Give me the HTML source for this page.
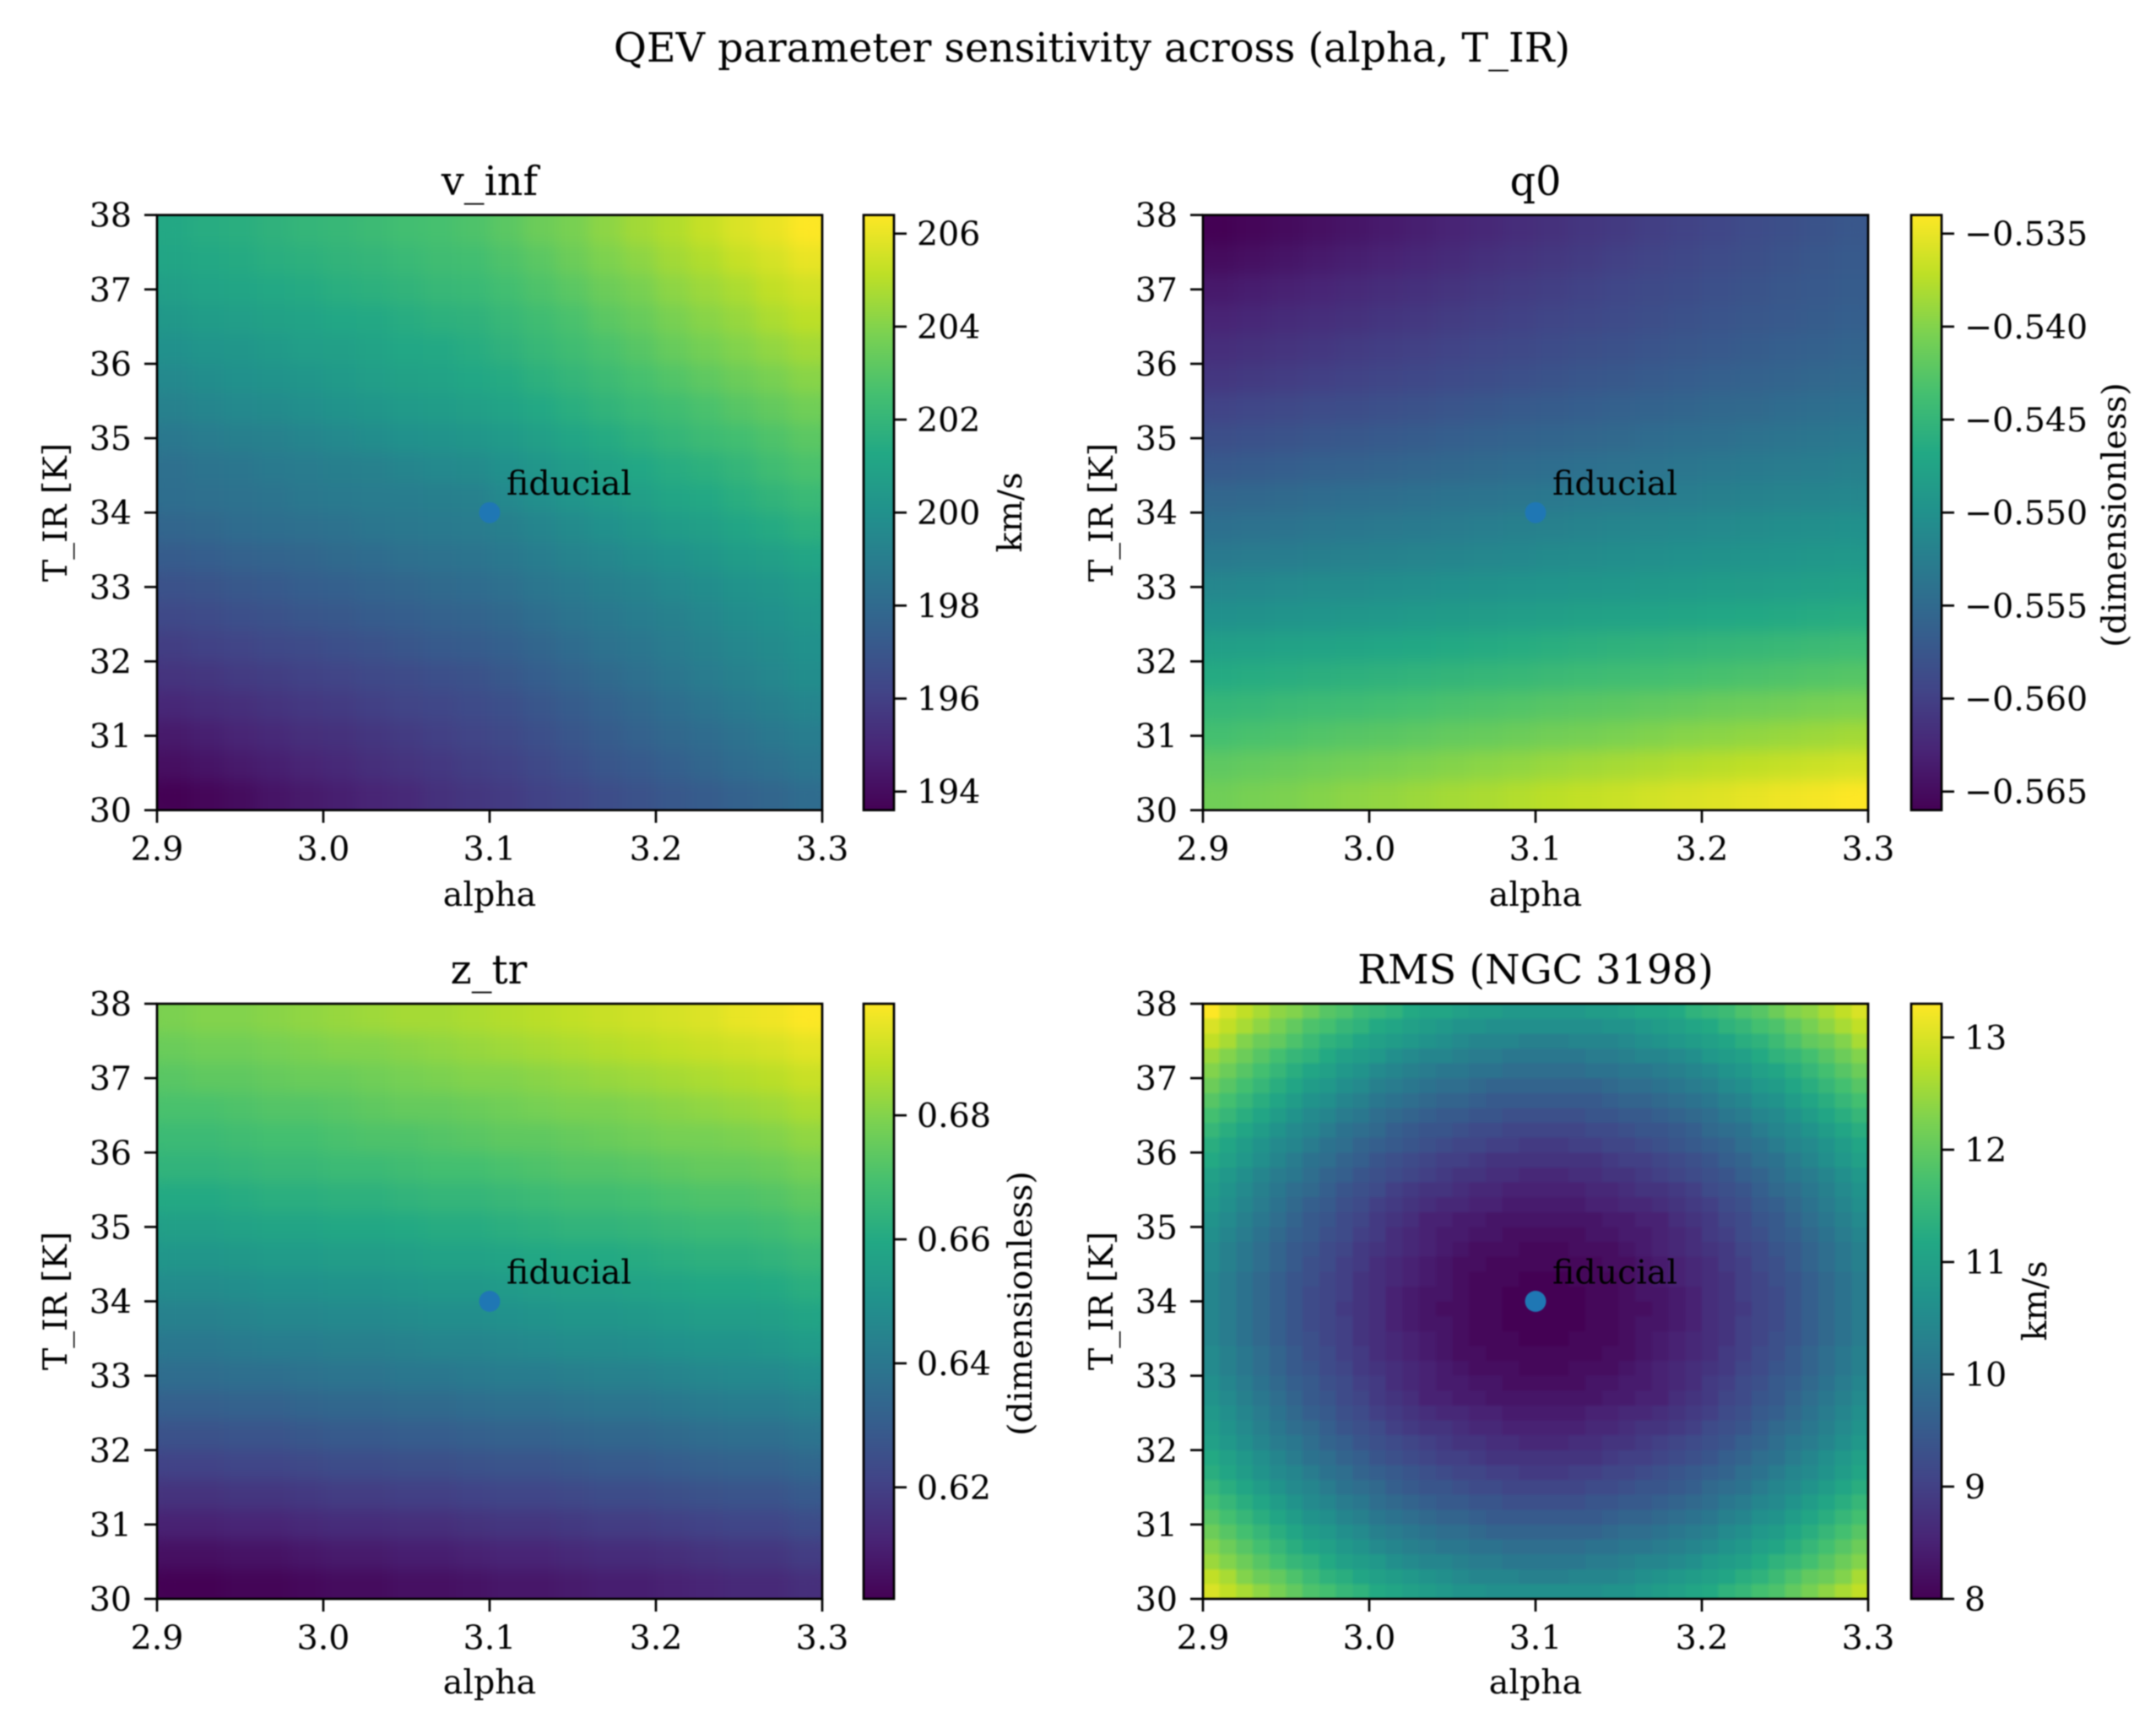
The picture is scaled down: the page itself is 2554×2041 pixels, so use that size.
<!DOCTYPE html>
<html lang="en">
<head>
<meta charset="utf-8">
<title>QEV parameter sensitivity</title>
<style>
html,body{margin:0;padding:0;background:#fff;width:2554px;height:2041px;overflow:hidden}
svg{display:block;filter:blur(0.8px)}
text{fill:#000;font-family:"DejaVu Serif","Liberation Serif",serif}
</style>
</head>
<body>
<svg id="figure" xmlns="http://www.w3.org/2000/svg" width="2554" height="2041" viewBox="0 0 2554 2041">
<defs>
<linearGradient id="viridis-gradient" x1="0" y1="1" x2="0" y2="0">
<stop offset="0" stop-color="#440154"/><stop offset=".1" stop-color="#482475"/><stop offset=".2" stop-color="#414487"/><stop offset=".3" stop-color="#355f8d"/><stop offset=".4" stop-color="#2a788e"/><stop offset=".5" stop-color="#21918c"/><stop offset=".6" stop-color="#22a884"/><stop offset=".7" stop-color="#44bf70"/><stop offset=".8" stop-color="#7ad151"/><stop offset=".9" stop-color="#bddf26"/><stop offset="1" stop-color="#fde725"/>
</linearGradient>
<filter id="soft-cells" x="-5%" y="-5%" width="110%" height="110%" color-interpolation-filters="sRGB"><feGaussianBlur stdDeviation="9"/><feComponentTransfer><feFuncA type="linear" slope="60"/></feComponentTransfer></filter>
<filter id="crisp-cells" x="-5%" y="-5%" width="110%" height="110%" color-interpolation-filters="sRGB"><feGaussianBlur stdDeviation="1.2"/><feComponentTransfer><feFuncA type="linear" slope="60"/></feComponentTransfer></filter>
</defs>
<rect width="2554" height="2041" fill="#fff"/>
<text x="1293.5" y="73" font-size="47.6" text-anchor="middle">QEV parameter sensitivity across (alpha, T_IR)</text>

<g id="vinf">
<text x="580" y="231" font-size="47.6" text-anchor="middle">v_inf</text>
<text x="580" y="1073" font-size="39.5" text-anchor="middle">alpha</text>
<text transform="translate(79,607) rotate(-90)" font-size="39.5" text-anchor="middle">T_IR [K]</text>
<text transform="translate(1210,607) rotate(-90)" font-size="39.5" text-anchor="middle">km/s</text>
</g>
<g id="q0">
<text x="1819" y="231" font-size="47.6" text-anchor="middle">q0</text>
<text x="1819" y="1073" font-size="39.5" text-anchor="middle">alpha</text>
<text transform="translate(1318,607) rotate(-90)" font-size="39.5" text-anchor="middle">T_IR [K]</text>
<text transform="translate(2518,610) rotate(-90)" font-size="39.5" text-anchor="middle">(dimensionless)</text>
</g>
<g id="ztr">
<text x="579" y="1165" font-size="47.6" text-anchor="middle">z_tr</text>
<text x="580" y="2006" font-size="39.5" text-anchor="middle">alpha</text>
<text transform="translate(79,1541) rotate(-90)" font-size="39.5" text-anchor="middle">T_IR [K]</text>
<text transform="translate(1222,1544) rotate(-90)" font-size="39.5" text-anchor="middle">(dimensionless)</text>
</g>
<g id="rms">
<text x="1819" y="1165" font-size="47.6" text-anchor="middle">RMS (NGC 3198)</text>
<text x="1819" y="2006" font-size="39.5" text-anchor="middle">alpha</text>
<text transform="translate(1318,1541) rotate(-90)" font-size="39.5" text-anchor="middle">T_IR [K]</text>
<text transform="translate(2424,1541) rotate(-90)" font-size="39.5" text-anchor="middle">km/s</text>
</g>
</svg>
<script>
const alphaTicks=[2.9,3.0,3.1,3.2,3.3];
const alphaTickLabels=["2.9","3.0","3.1","3.2","3.3"];
const tempTicks=[30,31,32,33,34,35,36,37,38];
const tempTickLabels=["30","31","32","33","34","35","36","37","38"];
const fiducialAlpha=3.1;
const fiducialTemp=34;
const fiducialLabel="fiducial";
const vInfBarTicks=[194,196,198,200,202,204,206];
const vInfBarLabels=["194","196","198","200","202","204","206"];
const q0BarTicks=[-.565,-.56,-.555,-.55,-.545,-.54,-.535];
const q0BarLabels=["−0.565","−0.560","−0.555","−0.550","−0.545","−0.540","−0.535"];
const zTrBarTicks=[.62,.64,.66,.68];
const zTrBarLabels=["0.62","0.64","0.66","0.68"];
const rmsBarTicks=[8,9,10,11,12,13];
const rmsBarLabels=["8","9","10","11","12","13"];

const vInfCells=[
[201.3,201.5,201.6,201.8,202.0,202.1,202.3,202.5,202.6,202.8,203.1,203.5,203.8,204.2,204.6,204.9,205.3,205.7,206.0,206.4],
[201.1,201.3,201.4,201.6,201.7,201.9,202.0,202.2,202.4,202.5,202.8,203.1,203.5,203.9,204.2,204.6,204.9,205.3,205.6,206.0],
[200.8,201.0,201.1,201.3,201.4,201.6,201.7,201.9,202.1,202.2,202.5,202.8,203.1,203.5,203.8,204.2,204.5,204.8,205.2,205.5],
[200.4,200.6,200.7,200.9,201.0,201.2,201.3,201.5,201.7,201.8,202.1,202.4,202.7,203.1,203.4,203.8,204.1,204.4,204.8,205.1],
[200.0,200.2,200.3,200.5,200.7,200.8,201.0,201.2,201.3,201.5,201.8,202.1,202.4,202.7,203.0,203.4,203.7,204.0,204.3,204.6],
[199.6,199.8,200.0,200.1,200.3,200.5,200.7,200.9,201.0,201.2,201.4,201.7,202.0,202.3,202.6,202.9,203.2,203.5,203.8,204.1],
[199.2,199.4,199.6,199.7,199.9,200.1,200.3,200.5,200.6,200.8,201.0,201.3,201.6,201.9,202.2,202.4,202.7,203.0,203.3,203.6],
[198.7,198.9,199.1,199.2,199.4,199.6,199.8,200.0,200.1,200.3,200.5,200.8,201.1,201.4,201.7,202.0,202.3,202.5,202.8,203.1],
[198.3,198.5,198.6,198.8,198.9,199.1,199.2,199.4,199.6,199.7,200.0,200.3,200.6,200.9,201.2,201.5,201.7,202.0,202.4,202.7],
[198.2,198.3,198.4,198.5,198.7,198.8,198.9,199.0,199.1,199.2,199.6,199.9,200.2,200.5,200.8,201.1,201.3,201.6,201.9,202.2],
[197.8,197.9,198.1,198.2,198.3,198.4,198.6,198.7,198.8,198.9,199.1,199.4,199.7,200.0,200.3,200.6,200.8,201.1,201.4,201.7],
[197.3,197.4,197.6,197.7,197.8,198.0,198.1,198.3,198.4,198.5,198.7,199.0,199.3,199.5,199.8,200.0,200.3,200.6,200.8,201.1],
[196.8,196.9,197.1,197.2,197.4,197.5,197.7,197.8,198.0,198.1,198.3,198.6,198.8,199.1,199.3,199.6,199.8,200.1,200.3,200.6],
[196.4,196.5,196.7,196.8,197.0,197.1,197.3,197.4,197.6,197.7,197.9,198.2,198.5,198.7,199.0,199.2,199.5,199.8,200.0,200.3],
[195.9,196.1,196.2,196.4,196.5,196.7,196.8,197.0,197.2,197.3,197.5,197.8,198.1,198.4,198.6,198.9,199.2,199.5,199.7,200.0],
[195.5,195.6,195.8,195.9,196.1,196.2,196.4,196.5,196.7,196.8,197.1,197.4,197.7,198.0,198.3,198.6,198.9,199.2,199.5,199.8],
[195.0,195.2,195.3,195.5,195.7,195.8,196.0,196.2,196.3,196.5,196.7,197.0,197.3,197.6,197.9,198.2,198.5,198.8,199.1,199.4],
[194.5,194.7,194.9,195.1,195.3,195.4,195.6,195.8,196.0,196.2,196.4,196.7,197.0,197.3,197.6,197.9,198.1,198.4,198.7,199.0],
[194.1,194.3,194.5,194.7,194.9,195.1,195.3,195.5,195.7,195.9,196.1,196.4,196.7,197.0,197.2,197.5,197.8,198.1,198.3,198.6],
[193.6,193.8,194.0,194.3,194.5,194.7,194.9,195.1,195.4,195.6,195.8,196.1,196.3,196.6,196.8,197.1,197.3,197.6,197.8,198.1]
];

const q0Cells=[
[-.5660,-.5655,-.5651,-.5646,-.5642,-.5637,-.5633,-.5628,-.5624,-.5619,-.5615,-.5610,-.5606,-.5601,-.5597,-.5592,-.5587,-.5583,-.5578,-.5574],
[-.5650,-.5646,-.5642,-.5637,-.5633,-.5629,-.5625,-.5621,-.5616,-.5612,-.5608,-.5604,-.5599,-.5595,-.5591,-.5587,-.5583,-.5578,-.5574,-.5570],
[-.5638,-.5634,-.5631,-.5627,-.5623,-.5619,-.5616,-.5612,-.5608,-.5604,-.5601,-.5597,-.5593,-.5589,-.5586,-.5582,-.5578,-.5574,-.5571,-.5567],
[-.5628,-.5625,-.5621,-.5618,-.5615,-.5611,-.5608,-.5604,-.5601,-.5598,-.5594,-.5591,-.5588,-.5584,-.5581,-.5577,-.5574,-.5571,-.5567,-.5564],
[-.5618,-.5615,-.5612,-.5609,-.5605,-.5602,-.5599,-.5596,-.5593,-.5590,-.5586,-.5583,-.5580,-.5577,-.5574,-.5571,-.5567,-.5564,-.5561,-.5558],
[-.5609,-.5606,-.5603,-.5600,-.5597,-.5594,-.5591,-.5588,-.5585,-.5582,-.5578,-.5575,-.5572,-.5569,-.5566,-.5563,-.5560,-.5557,-.5554,-.5551],
[-.5596,-.5593,-.5590,-.5587,-.5585,-.5582,-.5579,-.5576,-.5573,-.5570,-.5568,-.5565,-.5562,-.5559,-.5556,-.5553,-.5551,-.5548,-.5545,-.5542],
[-.5583,-.5580,-.5578,-.5575,-.5572,-.5570,-.5567,-.5564,-.5562,-.5559,-.5556,-.5554,-.5551,-.5548,-.5545,-.5543,-.5540,-.5537,-.5535,-.5532],
[-.5570,-.5567,-.5565,-.5562,-.5560,-.5557,-.5555,-.5552,-.5550,-.5547,-.5545,-.5542,-.5540,-.5537,-.5535,-.5532,-.5530,-.5527,-.5525,-.5522],
[-.5554,-.5552,-.5550,-.5548,-.5545,-.5543,-.5541,-.5539,-.5537,-.5535,-.5532,-.5530,-.5528,-.5526,-.5524,-.5522,-.5519,-.5517,-.5515,-.5513],
[-.5542,-.5540,-.5538,-.5535,-.5533,-.5531,-.5529,-.5527,-.5524,-.5522,-.5520,-.5518,-.5515,-.5513,-.5511,-.5509,-.5507,-.5504,-.5502,-.5500],
[-.5529,-.5527,-.5525,-.5523,-.5521,-.5519,-.5517,-.5515,-.5513,-.5511,-.5508,-.5506,-.5504,-.5502,-.5500,-.5498,-.5496,-.5494,-.5492,-.5490],
[-.5513,-.5511,-.5509,-.5507,-.5506,-.5504,-.5502,-.5500,-.5498,-.5496,-.5495,-.5493,-.5491,-.5489,-.5487,-.5485,-.5484,-.5482,-.5480,-.5478],
[-.5500,-.5498,-.5496,-.5494,-.5492,-.5490,-.5488,-.5486,-.5484,-.5482,-.5480,-.5478,-.5476,-.5474,-.5472,-.5470,-.5468,-.5466,-.5464,-.5462],
[-.5481,-.5479,-.5477,-.5475,-.5473,-.5471,-.5469,-.5467,-.5465,-.5463,-.5460,-.5458,-.5456,-.5454,-.5452,-.5450,-.5448,-.5446,-.5444,-.5442],
[-.5465,-.5463,-.5461,-.5459,-.5457,-.5455,-.5453,-.5451,-.5449,-.5447,-.5444,-.5442,-.5440,-.5438,-.5436,-.5434,-.5432,-.5430,-.5428,-.5426],
[-.5449,-.5447,-.5444,-.5442,-.5440,-.5437,-.5435,-.5432,-.5430,-.5428,-.5425,-.5423,-.5421,-.5418,-.5416,-.5413,-.5411,-.5409,-.5406,-.5404],
[-.5436,-.5433,-.5431,-.5428,-.5425,-.5423,-.5420,-.5417,-.5415,-.5412,-.5409,-.5407,-.5404,-.5401,-.5398,-.5396,-.5393,-.5390,-.5388,-.5385],
[-.5420,-.5417,-.5414,-.5411,-.5408,-.5405,-.5402,-.5399,-.5396,-.5393,-.5389,-.5386,-.5383,-.5380,-.5377,-.5374,-.5371,-.5368,-.5365,-.5362],
[-.5410,-.5406,-.5403,-.5399,-.5395,-.5392,-.5388,-.5384,-.5381,-.5377,-.5373,-.5369,-.5366,-.5362,-.5358,-.5355,-.5351,-.5347,-.5344,-.5340]
];

const zTrCells=[
[.679,.680,.680,.681,.682,.683,.684,.685,.685,.686,.687,.688,.689,.690,.691,.692,.693,.695,.696,.698],
[.676,.677,.677,.678,.679,.680,.680,.681,.682,.683,.684,.685,.686,.687,.688,.689,.690,.691,.692,.694],
[.673,.674,.674,.675,.676,.676,.677,.678,.679,.680,.680,.681,.682,.683,.684,.685,.686,.687,.688,.690],
[.670,.670,.671,.672,.672,.673,.674,.675,.675,.676,.677,.678,.679,.679,.680,.681,.682,.683,.684,.686],
[.667,.667,.668,.669,.669,.670,.671,.671,.672,.673,.674,.674,.675,.676,.677,.678,.678,.679,.680,.682],
[.664,.664,.665,.666,.666,.667,.667,.668,.669,.669,.670,.671,.672,.672,.673,.674,.675,.675,.676,.678],
[.660,.660,.661,.662,.662,.663,.663,.664,.665,.665,.666,.667,.668,.668,.669,.670,.671,.671,.672,.674],
[.656,.656,.657,.658,.658,.659,.659,.660,.661,.661,.662,.663,.664,.664,.665,.666,.667,.667,.668,.670],
[.652,.652,.653,.654,.654,.655,.655,.656,.657,.657,.658,.659,.660,.660,.661,.662,.663,.663,.664,.666],
[.648,.648,.649,.650,.650,.651,.651,.652,.653,.653,.654,.655,.656,.656,.657,.658,.659,.659,.660,.662],
[.644,.644,.645,.646,.646,.647,.647,.648,.649,.649,.650,.651,.652,.652,.653,.654,.655,.655,.656,.658],
[.640,.640,.641,.642,.642,.643,.643,.644,.645,.645,.646,.647,.648,.648,.649,.650,.651,.651,.652,.654],
[.636,.636,.637,.637,.638,.639,.639,.640,.640,.641,.642,.642,.643,.644,.644,.645,.646,.647,.647,.649],
[.631,.631,.632,.632,.633,.634,.634,.635,.635,.636,.637,.637,.638,.639,.639,.640,.641,.642,.642,.644],
[.626,.626,.627,.627,.628,.629,.629,.630,.630,.631,.632,.632,.633,.634,.634,.635,.636,.637,.637,.639],
[.621,.621,.622,.622,.623,.624,.624,.625,.625,.626,.627,.627,.628,.629,.629,.630,.631,.632,.632,.634],
[.616,.616,.617,.617,.618,.619,.619,.620,.620,.621,.622,.622,.623,.624,.624,.625,.626,.627,.627,.629],
[.611,.611,.612,.612,.613,.614,.614,.615,.615,.616,.617,.617,.618,.619,.619,.620,.621,.622,.622,.624],
[.606,.606,.607,.607,.608,.609,.609,.610,.610,.611,.612,.612,.613,.614,.614,.615,.616,.617,.617,.619],
[.602,.602,.603,.603,.604,.605,.605,.606,.606,.607,.608,.608,.609,.610,.610,.611,.612,.613,.613,.615]
];

const rmsCells=[
[13.3,13.0,12.8,12.6,12.4,12.3,12.1,11.9,11.8,11.6,11.5,11.4,11.2,11.1,11.1,11.0,10.9,10.9,10.8,10.8,10.8,10.8,10.8,10.9,10.9,11.0,11.1,11.1,11.2,11.4,11.5,11.6,11.8,11.9,12.1,12.3,12.4,12.6,12.8,13.0],
[13.0,12.8,12.6,12.4,12.2,12.0,11.8,11.7,11.5,11.4,11.2,11.1,11.0,10.9,10.8,10.7,10.7,10.6,10.6,10.6,10.6,10.6,10.6,10.6,10.7,10.7,10.8,10.9,11.0,11.1,11.2,11.4,11.5,11.7,11.8,12.0,12.2,12.4,12.6,12.8],
[12.8,12.6,12.3,12.1,12.0,11.8,11.6,11.4,11.3,11.1,11.0,10.9,10.8,10.7,10.6,10.5,10.4,10.4,10.4,10.3,10.3,10.3,10.4,10.4,10.4,10.5,10.6,10.7,10.8,10.9,11.0,11.1,11.3,11.4,11.6,11.8,12.0,12.1,12.3,12.6],
[12.5,12.3,12.1,11.9,11.7,11.5,11.4,11.2,11.0,10.9,10.8,10.6,10.5,10.4,10.4,10.3,10.2,10.2,10.1,10.1,10.1,10.1,10.1,10.2,10.2,10.3,10.4,10.4,10.5,10.6,10.8,10.9,11.0,11.2,11.4,11.5,11.7,11.9,12.1,12.3],
[12.3,12.1,11.9,11.7,11.5,11.3,11.1,11.0,10.8,10.7,10.5,10.4,10.3,10.2,10.1,10.1,10.0,10.0,9.9,9.9,9.9,9.9,9.9,10.0,10.0,10.1,10.1,10.2,10.3,10.4,10.5,10.7,10.8,11.0,11.1,11.3,11.5,11.7,11.9,12.1],
[12.1,11.9,11.7,11.5,11.3,11.1,10.9,10.8,10.6,10.5,10.3,10.2,10.1,10.0,9.9,9.9,9.8,9.7,9.7,9.7,9.7,9.7,9.7,9.7,9.8,9.9,9.9,10.0,10.1,10.2,10.3,10.5,10.6,10.8,10.9,11.1,11.3,11.5,11.7,11.9],
[11.9,11.7,11.5,11.3,11.1,10.9,10.7,10.6,10.4,10.3,10.1,10.0,9.9,9.8,9.7,9.7,9.6,9.5,9.5,9.5,9.5,9.5,9.5,9.5,9.6,9.7,9.7,9.8,9.9,10.0,10.1,10.3,10.4,10.6,10.7,10.9,11.1,11.3,11.5,11.7],
[11.7,11.5,11.3,11.1,10.9,10.7,10.5,10.4,10.2,10.1,9.9,9.8,9.7,9.6,9.5,9.5,9.4,9.4,9.3,9.3,9.3,9.3,9.3,9.4,9.4,9.5,9.5,9.6,9.7,9.8,9.9,10.1,10.2,10.4,10.5,10.7,10.9,11.1,11.3,11.5],
[11.5,11.3,11.1,10.9,10.7,10.5,10.4,10.2,10.0,9.9,9.8,9.6,9.5,9.4,9.4,9.3,9.2,9.2,9.1,9.1,9.1,9.1,9.1,9.2,9.2,9.3,9.4,9.4,9.5,9.6,9.8,9.9,10.0,10.2,10.4,10.5,10.7,10.9,11.1,11.3],
[11.3,11.1,10.9,10.7,10.5,10.4,10.2,10.0,9.9,9.7,9.6,9.5,9.4,9.3,9.2,9.1,9.1,9.0,9.0,8.9,8.9,8.9,9.0,9.0,9.1,9.1,9.2,9.3,9.4,9.5,9.6,9.7,9.9,10.0,10.2,10.4,10.5,10.7,10.9,11.1],
[11.2,11.0,10.8,10.6,10.4,10.2,10.0,9.9,9.7,9.6,9.4,9.3,9.2,9.1,9.0,9.0,8.9,8.8,8.8,8.8,8.8,8.8,8.8,8.8,8.9,9.0,9.0,9.1,9.2,9.3,9.4,9.6,9.7,9.9,10.0,10.2,10.4,10.6,10.8,11.0],
[11.0,10.8,10.6,10.4,10.2,10.1,9.9,9.7,9.6,9.4,9.3,9.2,9.1,9.0,8.9,8.8,8.8,8.7,8.7,8.6,8.6,8.6,8.7,8.7,8.8,8.8,8.9,9.0,9.1,9.2,9.3,9.4,9.6,9.7,9.9,10.1,10.2,10.4,10.6,10.8],
[10.9,10.7,10.5,10.3,10.1,9.9,9.8,9.6,9.4,9.3,9.2,9.0,8.9,8.8,8.8,8.7,8.6,8.6,8.5,8.5,8.5,8.5,8.5,8.6,8.6,8.7,8.8,8.8,8.9,9.0,9.2,9.3,9.4,9.6,9.8,9.9,10.1,10.3,10.5,10.7],
[10.8,10.6,10.4,10.2,10.0,9.8,9.6,9.5,9.3,9.2,9.0,8.9,8.8,8.7,8.6,8.6,8.5,8.5,8.4,8.4,8.4,8.4,8.4,8.5,8.5,8.6,8.6,8.7,8.8,8.9,9.0,9.2,9.3,9.5,9.6,9.8,10.0,10.2,10.4,10.6],
[10.7,10.5,10.3,10.1,9.9,9.7,9.5,9.4,9.2,9.1,8.9,8.8,8.7,8.5,8.5,8.4,8.4,8.3,8.3,8.3,8.3,8.3,8.3,8.3,8.4,8.4,8.5,8.5,8.7,8.8,8.9,9.1,9.2,9.4,9.5,9.7,9.9,10.1,10.3,10.5],
[10.6,10.4,10.2,10.0,9.8,9.6,9.5,9.3,9.2,9.0,8.9,8.7,8.6,8.5,8.4,8.4,8.3,8.3,8.2,8.2,8.2,8.2,8.2,8.3,8.3,8.4,8.4,8.5,8.6,8.7,8.9,9.0,9.2,9.3,9.5,9.6,9.8,10.0,10.2,10.4],
[10.5,10.3,10.1,9.9,9.7,9.5,9.4,9.2,9.1,8.9,8.8,8.7,8.6,8.5,8.4,8.3,8.2,8.2,8.2,8.1,8.1,8.1,8.2,8.2,8.2,8.3,8.4,8.5,8.6,8.7,8.8,8.9,9.1,9.2,9.4,9.5,9.7,9.9,10.1,10.3],
[10.5,10.3,10.1,9.9,9.7,9.5,9.3,9.2,9.0,8.9,8.7,8.6,8.5,8.4,8.3,8.2,8.2,8.1,8.1,8.1,8.1,8.1,8.1,8.1,8.2,8.2,8.3,8.4,8.5,8.6,8.7,8.9,9.0,9.2,9.3,9.5,9.7,9.9,10.1,10.3],
[10.4,10.2,10.0,9.8,9.6,9.4,9.3,9.1,9.0,8.8,8.7,8.6,8.5,8.4,8.3,8.2,8.1,8.1,8.1,8.0,8.0,8.0,8.1,8.1,8.1,8.2,8.3,8.4,8.5,8.6,8.7,8.8,9.0,9.1,9.3,9.4,9.6,9.8,10.0,10.2],
[10.4,10.2,10.0,9.8,9.6,9.4,9.2,9.1,9.0,8.8,8.7,8.5,8.4,8.3,8.3,8.2,8.1,8.1,8.0,8.0,8.0,8.0,8.0,8.1,8.1,8.2,8.3,8.3,8.4,8.5,8.7,8.8,9.0,9.1,9.2,9.4,9.6,9.8,10.0,10.2],
[10.4,10.2,10.0,9.8,9.6,9.4,9.2,9.1,8.9,8.8,8.7,8.5,8.4,8.3,8.2,8.2,8.1,8.1,8.0,8.0,8.0,8.0,8.0,8.1,8.1,8.2,8.2,8.3,8.4,8.5,8.7,8.8,8.9,9.1,9.2,9.4,9.6,9.8,10.0,10.2],
[10.4,10.2,10.0,9.8,9.6,9.4,9.2,9.1,9.0,8.8,8.7,8.5,8.4,8.3,8.3,8.2,8.1,8.1,8.0,8.0,8.0,8.0,8.0,8.1,8.1,8.2,8.3,8.3,8.4,8.5,8.7,8.8,9.0,9.1,9.2,9.4,9.6,9.8,10.0,10.2],
[10.4,10.2,10.0,9.8,9.6,9.4,9.3,9.1,9.0,8.8,8.7,8.6,8.5,8.4,8.3,8.2,8.1,8.1,8.1,8.0,8.0,8.0,8.1,8.1,8.1,8.2,8.3,8.4,8.5,8.6,8.7,8.8,9.0,9.1,9.3,9.4,9.6,9.8,10.0,10.2],
[10.5,10.3,10.1,9.9,9.7,9.5,9.3,9.2,9.0,8.9,8.7,8.6,8.5,8.4,8.3,8.2,8.2,8.1,8.1,8.1,8.1,8.1,8.1,8.1,8.2,8.2,8.3,8.4,8.5,8.6,8.7,8.9,9.0,9.2,9.3,9.5,9.7,9.9,10.1,10.3],
[10.5,10.3,10.1,9.9,9.7,9.5,9.4,9.2,9.1,8.9,8.8,8.7,8.6,8.5,8.4,8.3,8.2,8.2,8.2,8.1,8.1,8.1,8.2,8.2,8.2,8.3,8.4,8.5,8.6,8.7,8.8,8.9,9.1,9.2,9.4,9.5,9.7,9.9,10.1,10.3],
[10.6,10.4,10.2,10.0,9.8,9.6,9.5,9.3,9.2,9.0,8.9,8.7,8.6,8.5,8.4,8.4,8.3,8.3,8.2,8.2,8.2,8.2,8.2,8.3,8.3,8.4,8.4,8.5,8.6,8.7,8.9,9.0,9.2,9.3,9.5,9.6,9.8,10.0,10.2,10.4],
[10.7,10.5,10.3,10.1,9.9,9.7,9.5,9.4,9.2,9.1,8.9,8.8,8.7,8.5,8.5,8.4,8.4,8.3,8.3,8.3,8.3,8.3,8.3,8.3,8.4,8.4,8.5,8.5,8.7,8.8,8.9,9.1,9.2,9.4,9.5,9.7,9.9,10.1,10.3,10.5],
[10.8,10.6,10.4,10.2,10.0,9.8,9.6,9.5,9.3,9.2,9.0,8.9,8.8,8.7,8.6,8.6,8.5,8.5,8.4,8.4,8.4,8.4,8.4,8.5,8.5,8.6,8.6,8.7,8.8,8.9,9.0,9.2,9.3,9.5,9.6,9.8,10.0,10.2,10.4,10.6],
[10.9,10.7,10.5,10.3,10.1,9.9,9.8,9.6,9.4,9.3,9.2,9.0,8.9,8.8,8.8,8.7,8.6,8.6,8.5,8.5,8.5,8.5,8.5,8.6,8.6,8.7,8.8,8.8,8.9,9.0,9.2,9.3,9.4,9.6,9.8,9.9,10.1,10.3,10.5,10.7],
[11.0,10.8,10.6,10.4,10.2,10.1,9.9,9.7,9.6,9.4,9.3,9.2,9.1,9.0,8.9,8.8,8.8,8.7,8.7,8.6,8.6,8.6,8.7,8.7,8.8,8.8,8.9,9.0,9.1,9.2,9.3,9.4,9.6,9.7,9.9,10.1,10.2,10.4,10.6,10.8],
[11.2,11.0,10.8,10.6,10.4,10.2,10.0,9.9,9.7,9.6,9.4,9.3,9.2,9.1,9.0,9.0,8.9,8.8,8.8,8.8,8.8,8.8,8.8,8.8,8.9,9.0,9.0,9.1,9.2,9.3,9.4,9.6,9.7,9.9,10.0,10.2,10.4,10.6,10.8,11.0],
[11.3,11.1,10.9,10.7,10.5,10.4,10.2,10.0,9.9,9.7,9.6,9.5,9.4,9.3,9.2,9.1,9.1,9.0,9.0,8.9,8.9,8.9,9.0,9.0,9.1,9.1,9.2,9.3,9.4,9.5,9.6,9.7,9.9,10.0,10.2,10.4,10.5,10.7,10.9,11.1],
[11.5,11.3,11.1,10.9,10.7,10.5,10.4,10.2,10.0,9.9,9.8,9.6,9.5,9.4,9.4,9.3,9.2,9.2,9.1,9.1,9.1,9.1,9.1,9.2,9.2,9.3,9.4,9.4,9.5,9.6,9.8,9.9,10.0,10.2,10.4,10.5,10.7,10.9,11.1,11.3],
[11.7,11.5,11.3,11.1,10.9,10.7,10.5,10.4,10.2,10.1,9.9,9.8,9.7,9.6,9.5,9.5,9.4,9.4,9.3,9.3,9.3,9.3,9.3,9.4,9.4,9.5,9.5,9.6,9.7,9.8,9.9,10.1,10.2,10.4,10.5,10.7,10.9,11.1,11.3,11.5],
[11.9,11.7,11.5,11.3,11.1,10.9,10.7,10.6,10.4,10.3,10.1,10.0,9.9,9.8,9.7,9.7,9.6,9.5,9.5,9.5,9.5,9.5,9.5,9.5,9.6,9.7,9.7,9.8,9.9,10.0,10.1,10.3,10.4,10.6,10.7,10.9,11.1,11.3,11.5,11.7],
[12.1,11.9,11.7,11.5,11.3,11.1,10.9,10.8,10.6,10.5,10.3,10.2,10.1,10.0,9.9,9.9,9.8,9.7,9.7,9.7,9.7,9.7,9.7,9.7,9.8,9.9,9.9,10.0,10.1,10.2,10.3,10.5,10.6,10.8,10.9,11.1,11.3,11.5,11.7,11.9],
[12.3,12.1,11.9,11.7,11.5,11.3,11.1,11.0,10.8,10.7,10.5,10.4,10.3,10.2,10.1,10.1,10.0,10.0,9.9,9.9,9.9,9.9,9.9,10.0,10.0,10.1,10.1,10.2,10.3,10.4,10.5,10.7,10.8,11.0,11.1,11.3,11.5,11.7,11.9,12.1],
[12.5,12.3,12.1,11.9,11.7,11.5,11.4,11.2,11.0,10.9,10.8,10.6,10.5,10.4,10.4,10.3,10.2,10.2,10.1,10.1,10.1,10.1,10.1,10.2,10.2,10.3,10.4,10.4,10.5,10.6,10.8,10.9,11.0,11.2,11.4,11.5,11.7,11.9,12.1,12.3],
[12.8,12.6,12.3,12.1,12.0,11.8,11.6,11.4,11.3,11.1,11.0,10.9,10.8,10.7,10.6,10.5,10.4,10.4,10.4,10.3,10.3,10.3,10.4,10.4,10.4,10.5,10.6,10.7,10.8,10.9,11.0,11.1,11.3,11.4,11.6,11.8,12.0,12.1,12.3,12.6],
[13.0,12.8,12.6,12.4,12.2,12.0,11.8,11.7,11.5,11.4,11.2,11.1,11.0,10.9,10.8,10.7,10.7,10.6,10.6,10.6,10.6,10.6,10.6,10.6,10.7,10.7,10.8,10.9,11.0,11.1,11.2,11.4,11.5,11.7,11.8,12.0,12.2,12.4,12.6,12.8]
];

const NS="http://www.w3.org/2000/svg";
const PLOT_W=788, PLOT_H=705, BAR_W=36;
const STROKE=2.7, TICK=15;
const viridisStops=["#440154","#482475","#414487","#355f8d","#2a788e","#21918c","#22a884","#44bf70","#7ad151","#bddf26","#fde725"].map(h=>[1,3,5].map(i=>parseInt(h.substr(i,2),16)));

function viridis(t){
  const s=Math.max(0,Math.min(1,t))*(viridisStops.length-1);
  const i=Math.min(Math.floor(s),viridisStops.length-2);
  const f=s-i;
  const a=viridisStops[i], b=viridisStops[i+1];
  return "rgb("+a.map((v,k)=>Math.round(v+(b[k]-v)*f)).join(",")+")";
}
function make(tag,attrs){
  const el=document.createElementNS(NS,tag);
  for(const k in attrs) el.setAttribute(k,attrs[k]);
  return el;
}

function drawPanel(id,left,top,barLeft,cells,barTicks,barLabels,cellFilter){
  const host=document.getElementById(id);
  const nRows=cells.length, nCols=cells[0].length;
  const flat=cells.flat();
  const minV=Math.min(...flat), maxV=Math.max(...flat);
  const colX=c=>left+c/nCols*PLOT_W;
  const rowY=r=>top+r/nRows*PLOT_H;
  const alphaX=a=>left+(a-alphaTicks[0])/(alphaTicks[alphaTicks.length-1]-alphaTicks[0])*PLOT_W;
  const tempY=t=>top+PLOT_H-(t-tempTicks[0])/(tempTicks[tempTicks.length-1]-tempTicks[0])*PLOT_H;
  const barY=v=>top+PLOT_H-(v-minV)/(maxV-minV)*PLOT_H;

  const clip=make("clipPath",{id:id+"-clip"});
  clip.appendChild(make("rect",{x:left,y:top,width:PLOT_W,height:PLOT_H}));
  host.appendChild(clip);
  const heat=make("g",{filter:"url(#"+cellFilter+")","clip-path":"url(#"+id+"-clip)"});
  
  
  host.appendChild(heat);

  cells.forEach((row,r)=>row.forEach((v,c)=>{
    const cell=make("rect",{x:colX(c),y:rowY(r),width:colX(c+1)-colX(c)+.5,height:rowY(r+1)-rowY(r)+.5,fill:viridis((v-minV)/(maxV-minV)),"shape-rendering":"crispEdges"});
    
    
    heat.appendChild(cell);
  }));

  const frame=make("rect",{x:left,y:top,width:PLOT_W,height:PLOT_H,fill:"none",stroke:"#000","stroke-width":STROKE});
  
  
  host.appendChild(frame);

  alphaTicks.forEach((a,i)=>{
    const x=alphaX(a);
    const mark=make("line",{x1:x,x2:x,y1:top+PLOT_H,y2:top+PLOT_H+TICK,stroke:"#000","stroke-width":STROKE});
    
    
    host.appendChild(mark);
    const label=make("text",{x:x,y:top+PLOT_H+59.5,"font-size":39.5,"text-anchor":"middle"});
    
    
    label.textContent=alphaTickLabels[i];
    host.appendChild(label);
  });
  tempTicks.forEach((t,i)=>{
    const y=tempY(t);
    const mark=make("line",{x1:left-TICK,x2:left,y1:y,y2:y,stroke:"#000","stroke-width":STROKE});
    
    
    host.appendChild(mark);
    const label=make("text",{x:left-30,y:y+14,"font-size":39.5,"text-anchor":"end"});
    
    
    label.textContent=tempTickLabels[i];
    host.appendChild(label);
  });

  const marker=make("circle",{cx:alphaX(fiducialAlpha),cy:tempY(fiducialTemp),r:12.5,fill:"#1f77b4"});
  
  
  host.appendChild(marker);
  const note=make("text",{x:alphaX(fiducialAlpha)+20,y:tempY(fiducialTemp)-21,"font-size":39.5});
  
  
  note.textContent=fiducialLabel;
  host.appendChild(note);

  const bar=make("rect",{x:barLeft,y:top,width:BAR_W,height:PLOT_H,fill:"url(#viridis-gradient)",stroke:"#000","stroke-width":STROKE});
  
  
  host.appendChild(bar);
  barTicks.forEach((v,i)=>{
    const y=barY(v);
    const mark=make("line",{x1:barLeft+BAR_W,x2:barLeft+BAR_W+TICK,y1:y,y2:y,stroke:"#000","stroke-width":STROKE});
    
    
    host.appendChild(mark);
    const label=make("text",{x:barLeft+BAR_W+27,y:y+14,"font-size":39.5});
    
    
    label.textContent=barLabels[i];
    host.appendChild(label);
  });
}

drawPanel("vinf",186,254.7,1023,vInfCells,vInfBarTicks,vInfBarLabels,"soft-cells");
drawPanel("q0",1425,254.7,2264,q0Cells,q0BarTicks,q0BarLabels,"soft-cells");
drawPanel("ztr",186,1189,1023,zTrCells,zTrBarTicks,zTrBarLabels,"soft-cells");
drawPanel("rms",1425,1189,2264,rmsCells,rmsBarTicks,rmsBarLabels,"crisp-cells");
</script>
</body>
</html>
